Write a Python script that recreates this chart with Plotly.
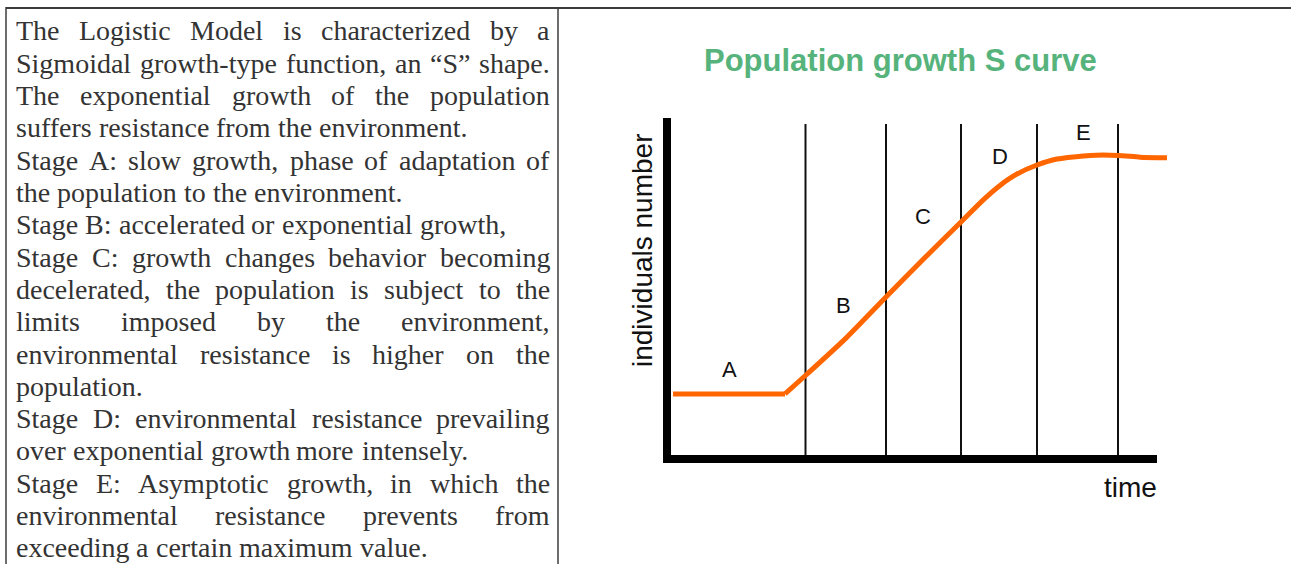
import plotly.graph_objects as go

W, H = 1291, 564

# ---------------- data ----------------
time_pts = [1.2, 23.6, 27.8, 35.8, 43.8, 51.2, 58.8, 63.2, 66.6, 70.0, 74.0, 78.0, 84.6, 90.2, 94.6, 100.0]
individuals = [21.7, 21.7, 28.0, 40.3, 54.0, 66.5, 79.0, 86.3, 91.2, 95.0, 98.0, 100.0, 101.2, 101.2, 100.6, 100.4]
stage_bounds = [27.7, 43.8, 58.8, 74.0, 90.2]
stage_names = ["A", "B", "C", "D", "E"]
stage_label_t = [12.4, 35.2, 51.2, 66.6, 83.2]
stage_label_n = [29.7, 51.3, 80.7, 100.7, 108.7]

title_text = "Population growth S curve"
x_title = "time"
y_title = "individuals number"

text_lines = [
    "The Logistic Model is characterized by a",
    "Sigmoidal growth-type function, an \u201cS\u201d shape.",
    "The exponential growth of the population",
    "suffers resistance from the environment.",
    "Stage A: slow growth, phase of adaptation of",
    "the population to the environment.",
    "Stage B: accelerated or exponential growth,",
    "Stage C: growth changes behavior becoming",
    "decelerated, the population is subject to the",
    "limits imposed by the environment,",
    "environmental resistance is higher on the",
    "population.",
    "Stage D: environmental resistance prevailing",
    "over exponential growth more intensely.",
    "Stage E: Asymptotic growth, in which the",
    "environmental resistance prevents from",
    "exceeding a certain maximum value.",
]
justified = [True, True, True, False, True, False, False, True, True, True,
             True, False, True, False, True, True, False]

# Times / Liberation Serif advance widths (1/1000 em)
TW = {' ': 250, ',': 250, '.': 250, ':': 278, '-': 333, '\u201c': 444, '\u201d': 444,
      'a': 444, 'b': 500, 'c': 444, 'd': 500, 'e': 444, 'f': 333, 'g': 500, 'h': 500,
      'i': 278, 'j': 278, 'k': 500, 'l': 278, 'm': 778, 'n': 500, 'o': 500, 'p': 500,
      'q': 500, 'r': 333, 's': 389, 't': 278, 'u': 500, 'v': 500, 'w': 722, 'x': 500,
      'y': 500, 'z': 444,
      'A': 722, 'B': 667, 'C': 667, 'D': 722, 'E': 611, 'L': 611, 'M': 889, 'S': 556, 'T': 611}

def px(x):
    return x / W

def py(y):
    return 1 - y / H

fig = go.Figure()

# chart axes: t -> pixel 667 + 5 t ; N -> pixel 459 - 3 N
X_DOM = (640, 1180)
Y_DOM = (100, 480)
fig.update_layout(
    xaxis=dict(domain=[px(X_DOM[0]), px(X_DOM[1])],
               range=[(X_DOM[0] - 667) / 5, (X_DOM[1] - 667) / 5],
               visible=False, fixedrange=True),
    yaxis=dict(domain=[py(Y_DOM[1]), py(Y_DOM[0])],
               range=[(459 - Y_DOM[1]) / 3, (459 - Y_DOM[0]) / 3],
               visible=False, fixedrange=True),
)

# curve: flat part then S-shaped part
fig.add_trace(go.Scatter(x=time_pts[:2], y=individuals[:2], mode="lines",
                         line=dict(color="#ff6600", width=5), hoverinfo="skip",
                         showlegend=False))
fig.add_trace(go.Scatter(x=time_pts[1:], y=individuals[1:], mode="lines",
                         line=dict(color="#ff6600", width=5, shape="spline", smoothing=0.6),
                         hoverinfo="skip", showlegend=False))

shapes = []
# stage dividers
for b in stage_bounds:
    shapes.append(dict(type="line", xref="x", yref="y", x0=b, x1=b, y0=0, y1=111.7,
                       line=dict(color="#111111", width=2), layer="below"))
# axis lines
shapes.append(dict(type="line", xref="x", yref="y", x0=0, x1=0, y0=-1.35, y1=113.7,
                   line=dict(color="#000000", width=8)))
shapes.append(dict(type="line", xref="x", yref="y", x0=-0.8, x1=98.0, y0=0, y1=0,
                   line=dict(color="#000000", width=8)))

# table borders
shapes.append(dict(type="line", xref="paper", yref="paper", x0=px(6), x1=px(W), y0=py(8), y1=py(8),
                   line=dict(color="#3c3c3c", width=2)))
shapes.append(dict(type="line", xref="paper", yref="paper", x0=px(6), x1=px(6), y0=py(7), y1=py(H),
                   line=dict(color="#3c3c3c", width=1.5)))
shapes.append(dict(type="line", xref="paper", yref="paper", x0=px(558), x1=px(558), y0=py(7), y1=py(H),
                   line=dict(color="#3c3c3c", width=1.5)))

annotations = []
# stage labels
for name, t, n in zip(stage_names, stage_label_t, stage_label_n):
    annotations.append(dict(x=t, y=n, xref="x", yref="y", text=name, showarrow=False,
                            xanchor="center", yanchor="middle",
                            font=dict(family="Liberation Sans, Arial", size=22, color="#111111")))

# title & axis titles
annotations.append(dict(x=px(900), y=py(60.5), xref="paper", yref="paper", text=title_text,
                        showarrow=False, xanchor="center", yanchor="middle",
                        font=dict(family="Liberation Sans, Arial", size=31, color="#56b37c",
                                  weight="bold")))
annotations.append(dict(x=px(642), y=py(251), xref="paper", yref="paper", text=y_title,
                        showarrow=False, xanchor="center", yanchor="middle", textangle=-90,
                        font=dict(family="Liberation Sans, Arial", size=28, color="#111111")))
annotations.append(dict(x=px(1130.5), y=py(487), xref="paper", yref="paper", text=x_title,
                        showarrow=False, xanchor="center", yanchor="middle",
                        font=dict(family="Liberation Sans, Arial", size=28, color="#111111")))

# justified paragraph text, word by word
FS = 28
LEFT, RIGHT = 16.0, 550.0
BASE0, LEAD = 40.8, 32.3

def wwidth(w):
    return sum(TW.get(c, 500) for c in w) * FS / 1000.0

for i, (line, just) in enumerate(zip(text_lines, justified)):
    words = line.split(" ")
    widths = [wwidth(w) for w in words]
    if just and len(words) > 1:
        gap = (RIGHT - LEFT - sum(widths)) / (len(words) - 1)
    else:
        gap = TW[' '] * FS / 1000.0
    xcur = LEFT
    cy = BASE0 + i * LEAD - 0.35 * FS
    for w, wd in zip(words, widths):
        annotations.append(dict(x=px(xcur + wd / 2), y=py(cy), xref="paper", yref="paper",
                                text=w, showarrow=False, xanchor="center", yanchor="middle",
                                font=dict(family="Liberation Serif, Times New Roman", size=FS,
                                          color="#333333")))
        xcur += wd + gap

fig.update_layout(
    width=W, height=H,
    margin=dict(l=0, r=0, t=0, b=0),
    paper_bgcolor="white", plot_bgcolor="white",
    shapes=shapes, annotations=annotations,
    showlegend=False,
)

fig.write_html("out.html", config={"displayModeBar": False, "staticPlot": True},
               post_script="document.body.style.margin='0';document.body.style.overflow='hidden';")
